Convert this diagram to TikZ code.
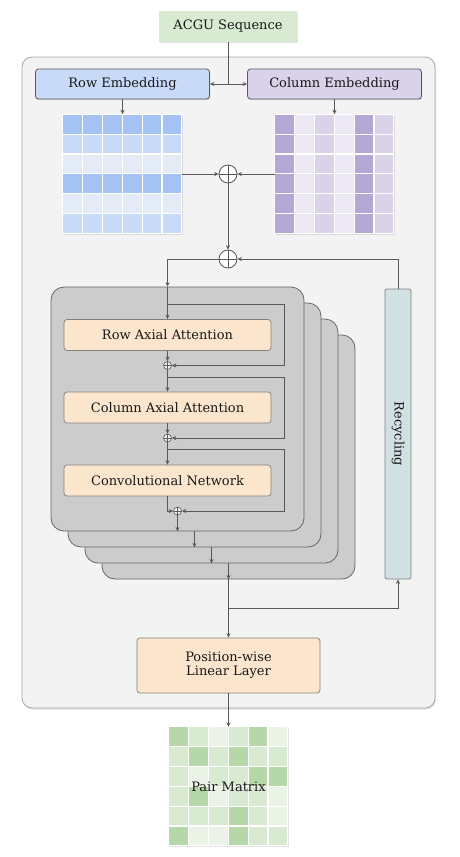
\documentclass[tikz,border=0pt]{standalone}
\usepackage{fontspec}
\setmainfont{DejaVu Serif}
\usetikzlibrary{arrows.meta,shadows}
\definecolor{wire}{HTML}{595959}
\definecolor{seqgreen}{HTML}{D9EAD3}
\definecolor{framefill}{HTML}{F3F3F3}
\definecolor{rowblue}{HTML}{C9DAF8}
\definecolor{colpurple}{HTML}{D9D2E9}
\definecolor{bdark}{HTML}{A4C2F4}
\definecolor{bmid}{HTML}{C9DAF8}
\definecolor{blight}{HTML}{E3EBF6}
\definecolor{pdark}{HTML}{B4A7D6}
\definecolor{pmid}{HTML}{D9D2E9}
\definecolor{plight}{HTML}{ECE9F5}
\definecolor{gdark}{HTML}{B6D7A8}
\definecolor{gmid}{HTML}{D9EAD3}
\definecolor{glight}{HTML}{EBF3E7}
\definecolor{opfill}{HTML}{FCE5CD}
\definecolor{stackfill}{HTML}{CCCCCC}
\definecolor{recfill}{HTML}{D0E0E3}

\tikzset{
  shade1/.style={drop shadow={opacity=0.22,shadow xshift=0.8pt,shadow yshift=-1.2pt}},
  embbox/.style={draw=wire, line width=0.8pt, rounded corners=3pt, minimum height=30, shade1},
  opbox/.style={draw=gray, line width=0.7pt, fill=opfill, rounded corners=3pt, minimum width=207, minimum height=31},
  layer/.style={draw=gray!80!black, line width=0.8pt, fill=stackfill, rounded corners=13pt, minimum width=253, minimum height=244},
  grid/.style={fill=white, minimum size=119, shade1},
  cell/.style={draw=white, line width=1.2pt},
  adder/.style={circle, draw=wire, fill=white, line width=0.8pt, minimum size=18,
    path picture={\draw[wire, line width=0.8pt] (path picture bounding box.north) -- (path picture bounding box.south)
      (path picture bounding box.west) -- (path picture bounding box.east);}},
  smalladd/.style={adder, minimum size=8, fill=gray!12, line width=0.6pt},
  arr/.style={draw=wire, line width=0.8pt, -{Stealth[length=4.5pt,width=4pt]}}
}

\begin{document}
\begin{tikzpicture}[x=1pt,y=-1pt, every node/.style={font=\fontsize{13}{14}\selectfont, text=black!90, inner sep=0pt}]
\useasboundingbox (0,0) rectangle (459,857);

\node[fill=seqgreen, minimum width=138, minimum height=31, shade1] (seq) at (228,26.5) {ACGU Sequence};
\node[draw=gray!70, line width=0.8pt, fill=framefill, rounded corners=10pt, minimum width=413, minimum height=651,
  drop shadow={opacity=0.25,shadow xshift=1pt,shadow yshift=-1.5pt}] (model) at (228.5,382.5) {};

% embeddings
\node[embbox, fill=rowblue, minimum width=174] (rowemb) at (122.5,84) {Row Embedding};
\node[embbox, fill=colpurple, minimum width=174] (colemb) at (334.5,84) {Column Embedding};
\coordinate (split) at (228,84);
\draw[wire, line width=0.8pt] (seq) -- (split);
\draw[arr] (split) -- (rowemb);
\draw[arr] (split) -- (colemb);

\node[grid] (rowmat) at (122.5,174) {};
\foreach \c [count=\r from 0] in {bdark,bmid,blight,bdark,blight,bmid}
  \foreach \k in {0,...,5}
    \filldraw[fill=\c, cell] ([shift={(\k*19.83,\r*19.83)}]rowmat.north west) rectangle ++(19.83,19.83);
\node[grid] (colmat) at (334.5,174) {};
\foreach \c [count=\k from 0] in {pdark,plight,pmid,plight,pdark,pmid}
  \foreach \r in {0,...,5}
    \filldraw[fill=\c, cell] ([shift={(\k*19.83,\r*19.83)}]colmat.north west) rectangle ++(19.83,19.83);
\draw[arr] (rowemb) -- (rowmat);
\draw[arr] (colemb) -- (colmat);

\node[adder] (add1) at (228,174) {};
\node[adder] (add2) at (228,259) {};
\draw[arr] (rowmat) -- (add1);
\draw[arr] (colmat) -- (add1);
\draw[arr] (add1) -- (add2);

% stacked blocks
\foreach \i in {3,2,1,0}
  \node[layer] (layer\i) at (177.5+17*\i,409+16*\i) {};
\node[opbox] (rowatt) at (167.5,335) {Row Axial Attention};
\node[opbox] (colatt) at (167.5,407.5) {Column Axial Attention};
\node[opbox] (conv) at (167.5,480.5) {Convolutional Network};
\node[smalladd] (sum1) at (167.5,365.5) {};
\node[smalladd] (sum2) at (167.5,438) {};
\node[smalladd] (sum3) at (177.5,511) {};
\coordinate (skip1) at (167.5,304);
\coordinate (skip2) at (167.5,377);
\coordinate (skip3) at (167.5,449);

\draw[arr] (add2) -| (rowatt.north |- layer0.north);
\draw[arr] (rowatt.north |- layer0.north) -- (rowatt);
\draw[arr] (rowatt) -- (sum1);
\draw[arr] (sum1) -- (colatt);
\draw[arr] (colatt) -- (sum2);
\draw[arr] (sum2) -- (conv);
\draw[arr] (conv.south) |- (sum3);
\draw[arr] (skip1) -- ++(116.5,0) |- (sum1);
\draw[arr] (skip2) -- ++(116.5,0) |- (sum2);
\draw[arr] (skip3) -- ++(116.5,0) |- (sum3);
\draw[arr] (sum3) -- (layer0.south);
\foreach \i [count=\j] in {0,1,2}
  \draw[arr] (layer\j.south |- layer\i.south) -- (layer\j.south);

% recycling
\node[draw=gray, line width=0.7pt, fill=recfill, rounded corners=2pt, minimum width=26, minimum height=290] (recyc) at (398,434) {\rotatebox{-90}{Recycling}};
\draw[arr] (recyc.north) |- (add2);
\coordinate (fork) at (228.5,608);
\draw[arr] (fork) -| (recyc.south);

\node[opbox, minimum width=183, minimum height=55, align=center] (linear) at (228.5,665.5) {Position-wise\\Linear Layer};
\draw[arr] (layer3.south) -- (linear);

\node[grid] (pairmat) at (228.5,786.5) {};
\foreach \row [count=\r from 0] in {{gdark,gmid,glight,gmid,gdark,glight},{gmid,gdark,gmid,gdark,gmid,gmid},
    {gmid,glight,gmid,gmid,gdark,gdark},{gmid,gdark,glight,gmid,gmid,glight},
    {gmid,gmid,gmid,gdark,gmid,glight},{gdark,glight,glight,gdark,gmid,gmid}}
  \foreach \c [count=\k from 0] in \row
    \filldraw[fill=\c, cell] ([shift={(\k*19.83,\r*19.83)}]pairmat.north west) rectangle ++(19.83,19.83);
\node (pairlbl) at (pairmat) {Pair Matrix};
\draw[arr] (linear) -- (pairmat);
\end{tikzpicture}
\end{document}
